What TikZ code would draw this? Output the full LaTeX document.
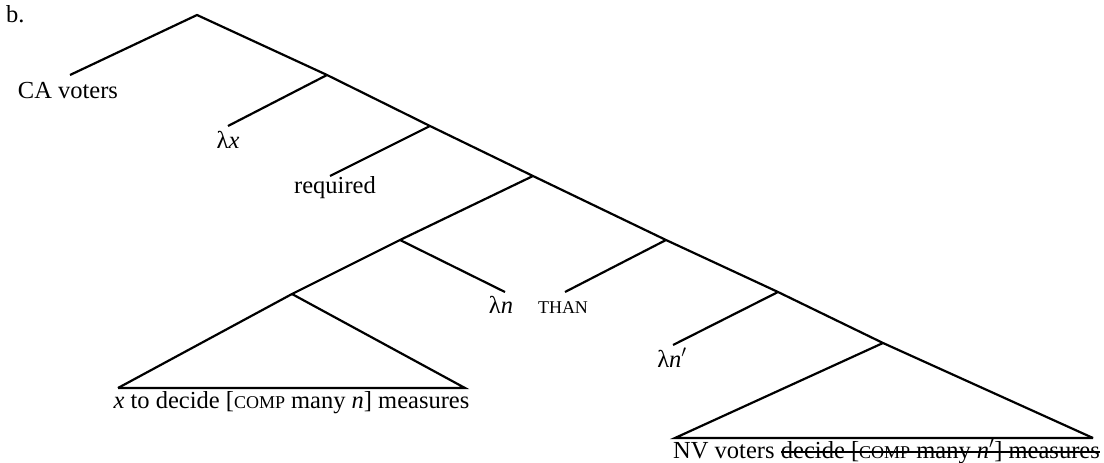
\documentclass[tikz,border=0pt]{standalone}
\usepackage{fontspec}
\setmainfont{Liberation Serif}
\newcommand{\fsc}[1]{{\fontsize{18}{20}\selectfont #1}}
\begin{document}
\begin{tikzpicture}[x=1pt,y=-1pt,
  edge/.style={line width=2.2pt, line cap=butt, line join=miter},
  lab/.style={anchor=base, inner sep=0pt, font=\fontsize{24.5}{29}\selectfont}]
\useasboundingbox (0,0) rectangle (1104,463);
% tree nodes
\coordinate (root) at (197,15);
\coordinate (n1) at (327,75);
\coordinate (n2) at (430,126);
\coordinate (n3) at (533,176);
\coordinate (n4) at (400,240);
\coordinate (n5) at (666,240);
\coordinate (n6) at (292,294);
\coordinate (n7) at (778,292);
\coordinate (n8) at (883,343);
% leaf ends
\coordinate (ca) at (70,75);
\coordinate (lx) at (228,126);
\coordinate (req) at (330,176);
\coordinate (ln) at (505,292);
\coordinate (than) at (565,292);
\coordinate (lnp) at (673,345);
\coordinate (t1l) at (118,388);
\coordinate (t1r) at (465,388);
\coordinate (t2l) at (675,438);
\coordinate (t2r) at (1093,438);
% labels
\node[lab, anchor=base west] (b) at (6,23) {b.};
\node[lab] (caL) at (68,98) {CA voters};
\node[lab] (lxL) at (228,148) {λ\textit{x}};
\node[lab] (reqL) at (335,193) {required};
\node[lab] (lnL) at (501,313) {λ\textit{n}};
\node[lab] (thanL) at (563,313) {\fsc{THAN}};
\node[lab] (lnpL) at (672,367) {λ\textit{n}$'$};
\node[lab] (t1L) at (291.5,408) {\textit{x} to decide [\fsc{COMP} many \textit{n}] measures};
\node[lab, anchor=base west] (t2a) at (673,458) {NV voters};
\node[lab, anchor=base west] (t2b) at ([xshift=6pt]t2a.base east) {decide [\fsc{COMP} many \textit{n}$'$] measures};
\draw[line width=1.6pt] ([yshift=6pt]t2b.base west) -- ([yshift=6pt]t2b.base east);
% edges
\draw[edge] (ca) -- (root) -- (n1) -- (n2) -- (n3) -- (n5) -- (n7) -- (n8) -- (t2r);
\draw[edge] (n1) -- (lx);
\draw[edge] (n2) -- (req);
\draw[edge] (n3) -- (n4) -- (n6) -- (t1l);
\draw[edge] (n6) -- (t1r) -- (t1l);
\draw[edge] (n4) -- (ln);
\draw[edge] (n5) -- (than);
\draw[edge] (n7) -- (lnp);
\draw[edge] (n8) -- (t2l) -- (t2r);
\end{tikzpicture}
\end{document}
